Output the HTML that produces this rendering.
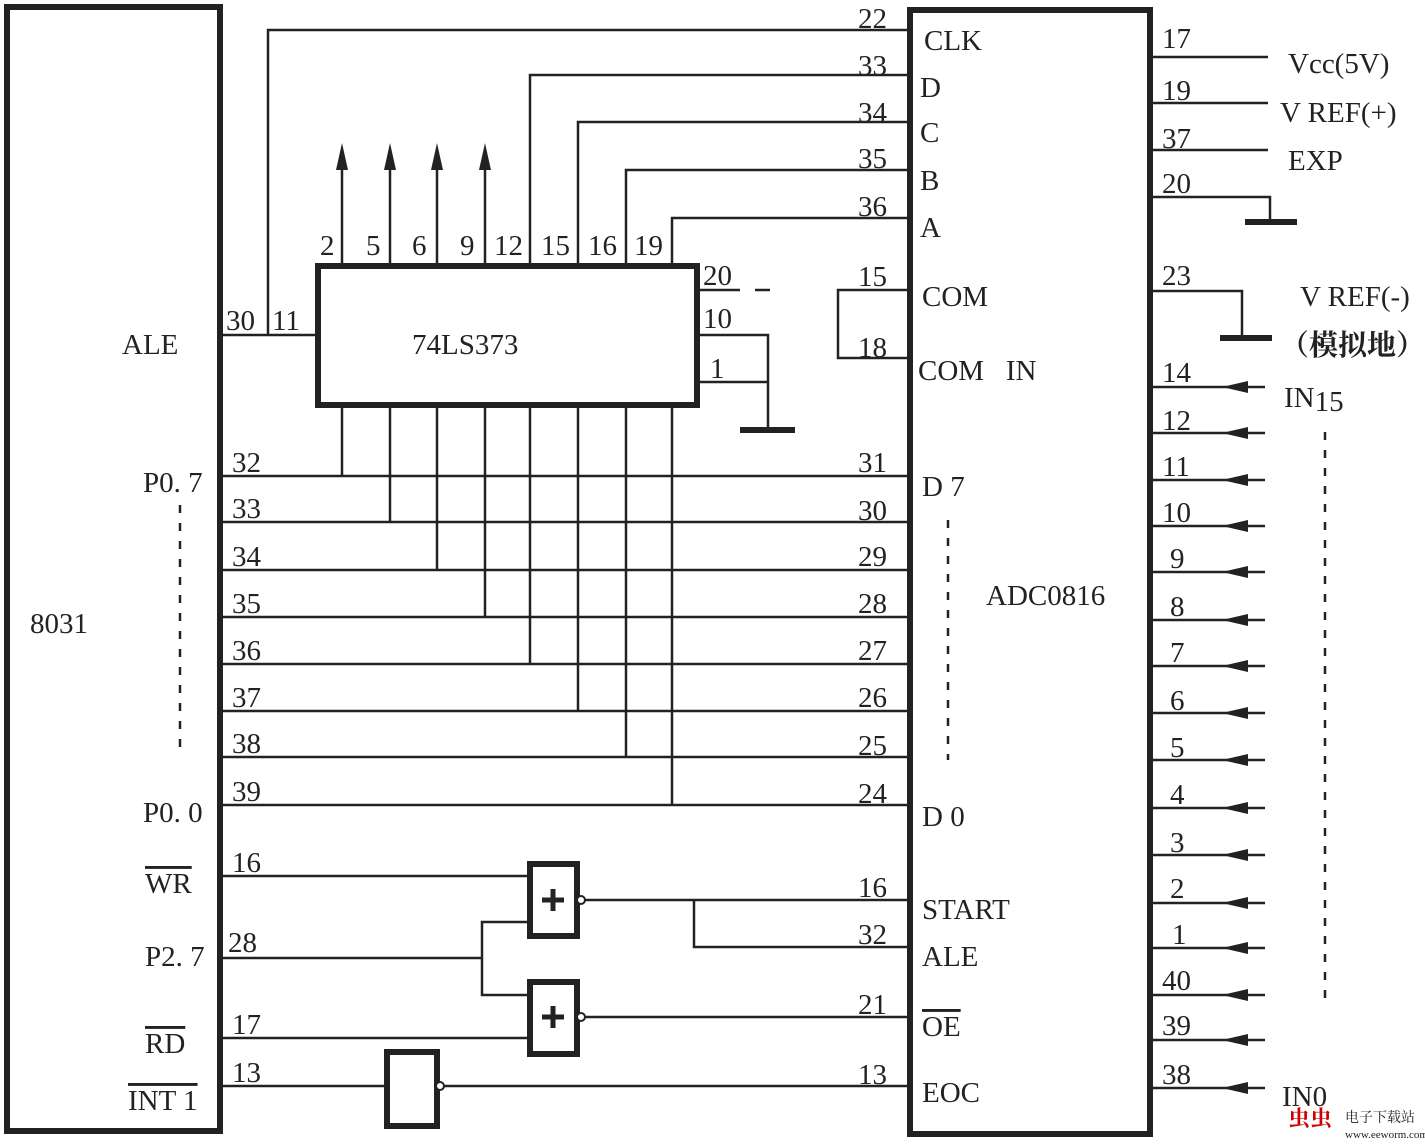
<!DOCTYPE html>
<html><head><style>
body{margin:0;background:#fff;}
svg text{font-family:"Liberation Serif","Noto Serif CJK SC",serif;font-size:29px;fill:#222;}
</style></head><body>
<svg width="1425" height="1141" xmlns="http://www.w3.org/2000/svg">
<defs>
<g id="ar">
<line x1="1150" y1="0" x2="1265" y2="0"/><polygon points="1222,0 1248,-6 1248,6" stroke="none"/>
</g>
</defs>
<g stroke="#222" fill="none">
<rect x="7" y="7" width="213" height="1124" stroke-width="6"/>
<rect x="318" y="266" width="379" height="139" stroke-width="6"/>
<rect x="910" y="10" width="240" height="1124" stroke-width="6"/>
<g stroke-width="2.5">
<polyline points="908,30 268,30 268,335"/>
<line x1="220" y1="335" x2="316" y2="335"/>
<polyline points="908,75 530,75 530,265"/><line x1="530" y1="405" x2="530" y2="664"/>
<polyline points="908,122 578,122 578,265"/><line x1="578" y1="405" x2="578" y2="711"/>
<polyline points="908,170 626,170 626,265"/><line x1="626" y1="405" x2="626" y2="757"/>
<polyline points="908,218 672,218 672,265"/><line x1="672" y1="405" x2="672" y2="805"/>
<line x1="342" y1="265" x2="342" y2="160"/><line x1="390" y1="265" x2="390" y2="160"/>
<line x1="437" y1="265" x2="437" y2="160"/><line x1="485" y1="265" x2="485" y2="160"/>
<line x1="342" y1="405" x2="342" y2="476"/><line x1="390" y1="405" x2="390" y2="522"/>
<line x1="437" y1="405" x2="437" y2="570"/><line x1="485" y1="405" x2="485" y2="617"/>
<line x1="220" y1="476" x2="908" y2="476"/><line x1="220" y1="522" x2="908" y2="522"/>
<line x1="220" y1="570" x2="908" y2="570"/><line x1="220" y1="617" x2="908" y2="617"/>
<line x1="220" y1="664" x2="908" y2="664"/><line x1="220" y1="711" x2="908" y2="711"/>
<line x1="220" y1="757" x2="908" y2="757"/><line x1="220" y1="805" x2="908" y2="805"/>
<line x1="697" y1="290" x2="740" y2="290"/><line x1="755" y1="290" x2="770" y2="290"/>
<polyline points="697,335 768,335 768,430"/><line x1="697" y1="382" x2="768" y2="382"/>
<polyline points="908,290 838,290 838,358 908,358"/>
<line x1="220" y1="876" x2="528" y2="876"/>
<polyline points="220,958 482,958"/><polyline points="528,922 482,922 482,995 528,995"/>
<line x1="220" y1="1038" x2="528" y2="1038"/>
<line x1="220" y1="1086" x2="385" y2="1086"/>
<line x1="584" y1="900" x2="908" y2="900"/><polyline points="694,900 694,947 908,947"/>
<line x1="584" y1="1017" x2="908" y2="1017"/>
<line x1="443" y1="1086" x2="908" y2="1086"/>
<line x1="1150" y1="57" x2="1268" y2="57"/><line x1="1150" y1="103" x2="1268" y2="103"/>
<line x1="1150" y1="150" x2="1268" y2="150"/>
<polyline points="1150,197 1270,197 1270,222"/><polyline points="1150,291 1242,291 1242,338"/>
<g stroke-dasharray="8,10"><line x1="180" y1="505" x2="180" y2="750"/><line x1="948" y1="520" x2="948" y2="760"/><line x1="1325" y1="432" x2="1325" y2="1000"/></g>
</g>
<g stroke-width="6">
<line x1="740" y1="430" x2="795" y2="430"/><line x1="1245" y1="222" x2="1297" y2="222"/><line x1="1220" y1="338" x2="1272" y2="338"/>
<rect x="530" y="864" width="47" height="72"/><rect x="530" y="982" width="47" height="72"/><rect x="387" y="1052" width="50" height="74"/>
</g>
<g stroke-width="2"><circle cx="581" cy="900" r="4" fill="#fff"/><circle cx="581" cy="1017" r="4" fill="#fff"/><circle cx="440" cy="1086" r="4" fill="#fff"/></g>
<g stroke-width="5"><line x1="542" y1="900" x2="564" y2="900"/><line x1="553" y1="889" x2="553" y2="911"/>
<line x1="542" y1="1017" x2="564" y2="1017"/><line x1="553" y1="1006" x2="553" y2="1028"/></g>
</g>
<g fill="#222">
<polygon points="342,143 336,170 348,170"/><polygon points="390,143 384,170 396,170"/>
<polygon points="437,143 431,170 443,170"/><polygon points="485,143 479,170 491,170"/>
</g>
<g stroke="#222" stroke-width="2.5" fill="#222">
<use href="#ar" y="387"/><use href="#ar" y="433"/><use href="#ar" y="480"/><use href="#ar" y="526"/>
<use href="#ar" y="572"/><use href="#ar" y="620"/><use href="#ar" y="666"/><use href="#ar" y="713"/>
<use href="#ar" y="760"/><use href="#ar" y="808"/><use href="#ar" y="855"/><use href="#ar" y="903"/>
<use href="#ar" y="948"/><use href="#ar" y="995"/><use href="#ar" y="1040"/><use href="#ar" y="1088"/>
</g>
<text x="122" y="354">ALE</text><text x="30" y="633">8031</text>
<text x="143" y="492">P0. 7</text><text x="143" y="822">P0. 0</text>
<text x="145" y="893" text-decoration="overline">WR</text><text x="145" y="966">P2. 7</text>
<text x="145" y="1053" text-decoration="overline">RD</text><text x="128" y="1110" text-decoration="overline">INT 1</text>
<text x="226" y="330">30</text><text x="272" y="330">11</text>
<text x="412" y="354">74LS373</text>
<text x="320" y="255">2</text><text x="366" y="255">5</text><text x="412" y="255">6</text><text x="460" y="255">9</text>
<text x="494" y="255">12</text><text x="541" y="255">15</text><text x="588" y="255">16</text><text x="634" y="255">19</text>
<text x="703" y="285">20</text><text x="703" y="328">10</text><text x="710" y="378">1</text>
<text x="232" y="472">32</text><text x="232" y="518">33</text><text x="232" y="566">34</text><text x="232" y="613">35</text>
<text x="232" y="660">36</text><text x="232" y="707">37</text><text x="232" y="753">38</text><text x="232" y="801">39</text>
<text x="232" y="872">16</text><text x="228" y="952">28</text><text x="232" y="1034">17</text><text x="232" y="1082">13</text>
<text x="858" y="28">22</text><text x="858" y="75">33</text><text x="858" y="122">34</text><text x="858" y="168">35</text><text x="858" y="216">36</text>
<text x="858" y="286">15</text><text x="858" y="357">18</text>
<text x="858" y="472">31</text><text x="858" y="520">30</text><text x="858" y="566">29</text><text x="858" y="613">28</text>
<text x="858" y="660">27</text><text x="858" y="707">26</text><text x="858" y="755">25</text><text x="858" y="803">24</text>
<text x="858" y="897">16</text><text x="858" y="944">32</text><text x="858" y="1014">21</text><text x="858" y="1084">13</text>
<text x="924" y="50">CLK</text><text x="920" y="97">D</text><text x="920" y="142">C</text><text x="920" y="190">B</text><text x="920" y="237">A</text>
<text x="922" y="306">COM</text><text x="918" y="380">COM &#160; IN</text>
<text x="922" y="496">D 7</text><text x="922" y="826">D 0</text><text x="986" y="605">ADC0816</text>
<text x="922" y="919">START</text><text x="922" y="966">ALE</text><text x="922" y="1036" text-decoration="overline">OE</text><text x="922" y="1102">EOC</text>
<text x="1162" y="48">17</text><text x="1162" y="100">19</text><text x="1162" y="148">37</text><text x="1162" y="193">20</text><text x="1162" y="285">23</text>
<text x="1288" y="73">Vcc(5V)</text><text x="1280" y="122">V REF(+)</text><text x="1288" y="170">EXP</text>
<text x="1300" y="306">V REF(-)</text><text x="1280" y="355" style="font-weight:bold">（模拟地）</text>
<text x="1284" y="407">IN<tspan font-size="29" dy="4">15</tspan></text>
<text x="1162" y="382">14</text><text x="1162" y="430">12</text><text x="1162" y="476">11</text><text x="1162" y="522">10</text>
<text x="1170" y="568">9</text><text x="1170" y="616">8</text><text x="1170" y="662">7</text><text x="1170" y="710">6</text>
<text x="1170" y="757">5</text><text x="1170" y="804">4</text><text x="1170" y="852">3</text><text x="1170" y="898">2</text>
<text x="1172" y="944">1</text><text x="1162" y="990">40</text><text x="1162" y="1035">39</text><text x="1162" y="1084">38</text>
<text x="1282" y="1106">IN0</text>
<text x="1288" y="1126" style="font-size:22px;fill:#c00;font-weight:bold">虫虫</text>
<text x="1345" y="1122" style="font-size:14px">电子下载站</text>
<text x="1345" y="1138" style="font-size:11px">www.eeworm.com</text>
</svg>
</body></html>
